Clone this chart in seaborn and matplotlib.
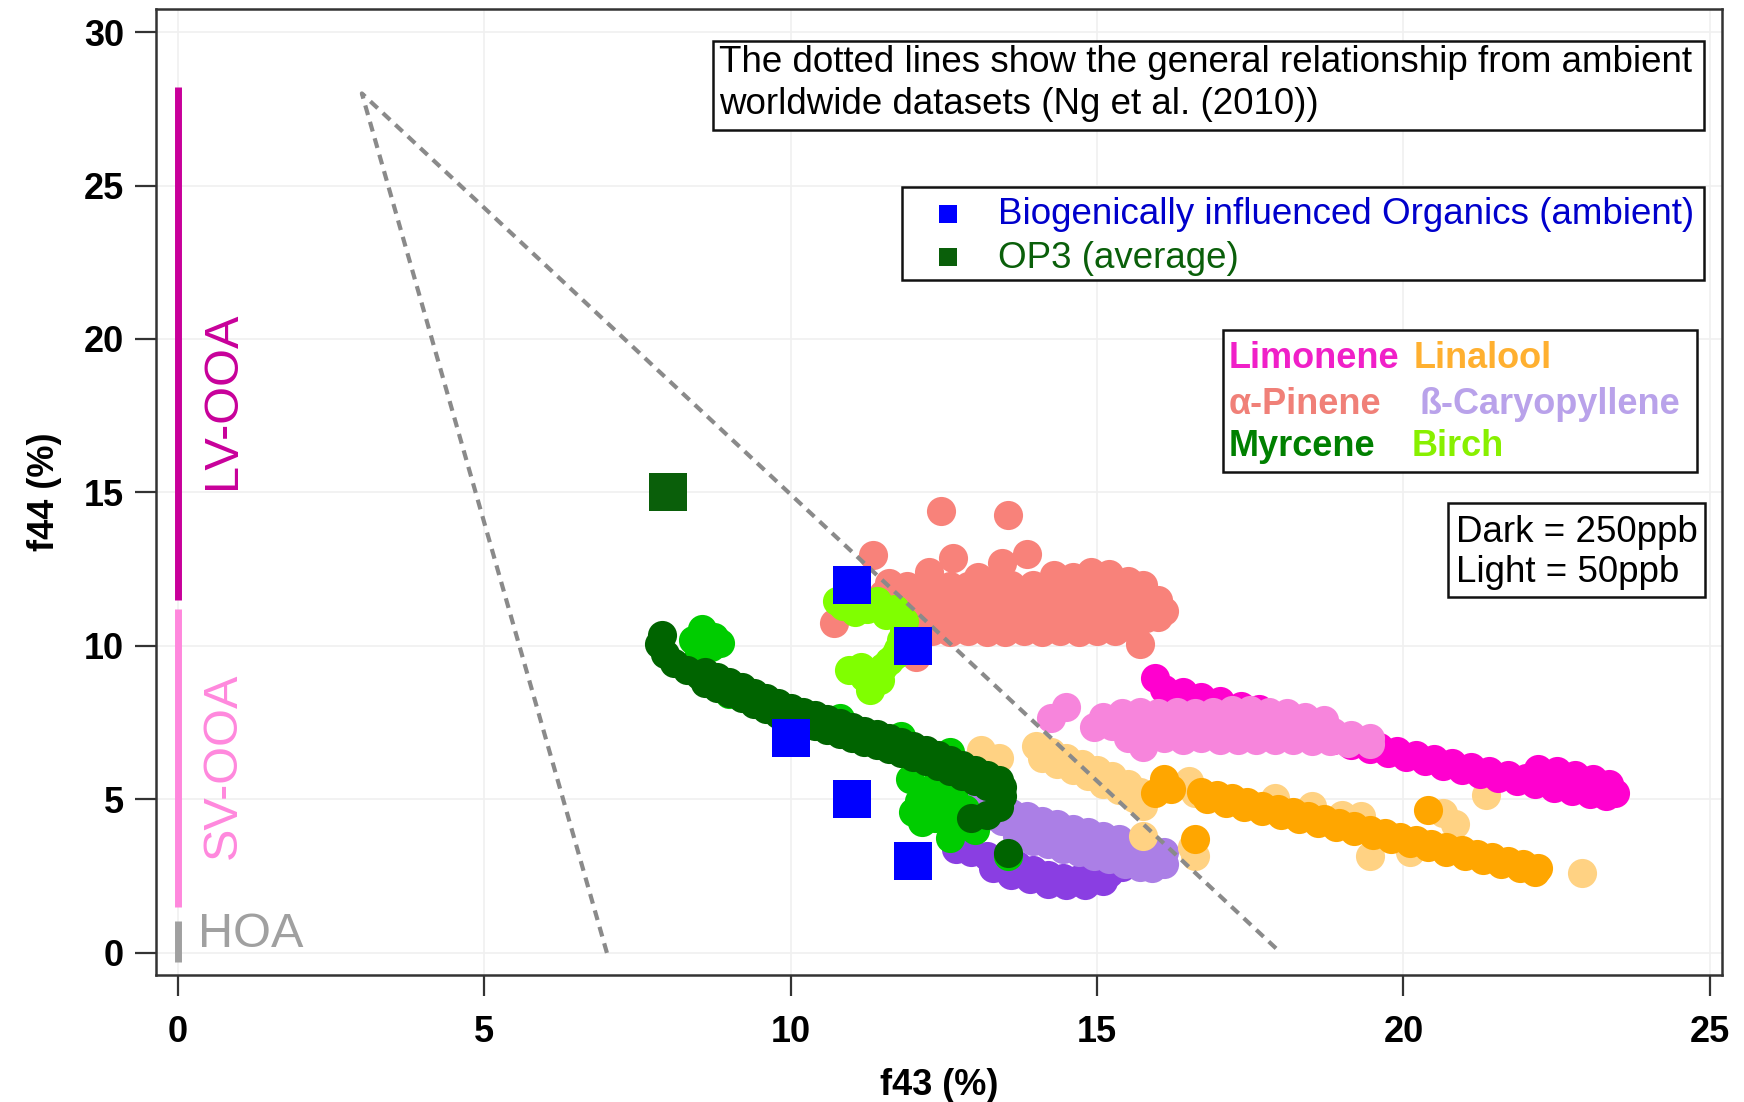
import matplotlib
matplotlib.use("Agg")
import matplotlib.pyplot as plt
from matplotlib.patches import Rectangle
import pandas as pd
import seaborn as sns

sns.set_theme(style="white")
plt.rcParams['font.family'] = ['Liberation Sans', 'DejaVu Sans']
plt.rcParams['text.color'] = 'black'
plt.rcParams['axes.labelcolor'] = 'black'
plt.rcParams['xtick.color'] = 'black'
plt.rcParams['ytick.color'] = 'black'

# ---------------------------------------------------------------- data (f43 %, f44 %)
pinene = [
    (12.45, 14.4), (13.55, 14.25), (11.35, 12.95), (12.65, 12.85), (13.45, 12.7),
    (13.85, 13.0), (12.25, 12.4), (13.05, 12.25), (10.7, 10.75), (15.7, 10.05),
    (12.05, 9.65), (11.95, 10.2),
    (11.6, 12.05), (11.9, 11.95), (12.2, 12.0), (12.6, 11.95), (12.9, 11.95),
    (13.3, 11.95), (13.6, 12.0), (13.95, 12.0), (14.3, 12.3), (14.6, 12.25),
    (14.9, 12.4), (15.2, 12.35), (15.5, 12.1), (15.75, 12.0),
    (11.5, 11.7), (11.8, 11.65), (12.1, 11.7), (12.4, 11.6), (12.7, 11.7),
    (13.0, 11.65), (13.3, 11.6), (13.6, 11.7), (13.9, 11.65), (14.2, 11.7),
    (14.5, 11.65), (14.8, 11.7), (15.1, 11.65), (15.4, 11.7), (15.7, 11.6), (16.0, 11.5),
    (11.6, 11.3), (11.9, 11.25), (12.2, 11.3), (12.5, 11.3), (12.8, 11.25),
    (13.1, 11.3), (13.4, 11.25), (13.7, 11.3), (14.0, 11.3), (14.3, 11.25),
    (14.6, 11.3), (14.9, 11.25), (15.2, 11.3), (15.5, 11.25), (15.8, 11.3), (16.1, 11.15),
    (11.9, 10.9), (12.2, 10.85), (12.5, 10.9), (12.8, 10.85), (13.1, 10.9),
    (13.4, 10.85), (13.7, 10.9), (14.0, 10.85), (14.3, 10.9), (14.6, 10.85),
    (14.9, 10.9), (15.2, 10.85), (15.5, 10.9), (15.8, 10.9), (16.0, 10.95),
    (12.3, 10.5), (12.6, 10.45), (12.9, 10.5), (13.2, 10.45), (13.5, 10.45),
    (13.8, 10.5), (14.1, 10.45), (14.4, 10.5), (14.7, 10.45), (15.0, 10.5),
    (15.3, 10.5), (15.6, 10.55),
]
caryophyllene_dark = [
    (12.7, 3.4), (12.95, 3.3), (13.2, 3.15), (13.45, 3.0), (13.7, 2.85), (13.95, 2.7),
    (14.2, 2.55), (14.45, 2.45), (14.7, 2.4), (14.95, 2.5), (15.2, 2.6), (15.4, 2.8),
    (13.3, 2.75), (13.6, 2.55), (13.9, 2.4), (14.2, 2.25), (14.5, 2.2), (14.8, 2.2),
    (15.1, 2.35),
]
caryophyllene_light = [
    (12.85, 4.95), (13.1, 4.8), (13.35, 4.7), (13.6, 4.55), (13.85, 4.45), (14.1, 4.3),
    (14.35, 4.2), (14.6, 4.05), (14.85, 3.95), (15.1, 3.8), (15.35, 3.7), (15.6, 3.55),
    (15.85, 3.45), (16.1, 3.3),
    (13.2, 4.45), (13.45, 4.3), (13.7, 4.15), (13.95, 4.0), (14.2, 3.9), (14.45, 3.75),
    (14.7, 3.65), (14.95, 3.5), (15.2, 3.4), (15.45, 3.25), (15.7, 3.15), (15.95, 3.0),
    (16.1, 2.9),
    (13.7, 3.8), (13.95, 3.65), (14.2, 3.55), (14.45, 3.4), (14.7, 3.3), (14.95, 3.15),
    (15.2, 3.05), (15.45, 2.9), (15.7, 2.8), (15.9, 2.75),
]
linalool_light = [
    (13.1, 6.6), (13.4, 6.35), (13.3, 6.05),
    (14.0, 6.75), (14.25, 6.55), (14.5, 6.35), (14.75, 6.15), (15.0, 5.95),
    (15.25, 5.75), (15.5, 5.5), (15.7, 5.25),
    (14.1, 6.35), (14.35, 6.15), (14.6, 5.95), (14.85, 5.75), (15.1, 5.5),
    (15.35, 5.3), (15.6, 5.05), (15.75, 4.8),
    (16.6, 5.2), (16.5, 5.6), (17.9, 5.05), (18.5, 4.8), (19.3, 4.45),
    (15.75, 3.8), (16.6, 3.15), (16.55, 3.45), (19.45, 3.15), (20.1, 3.3),
    (21.35, 5.15), (22.92, 2.6), (20.65, 4.55), (20.85, 4.2), (19.0, 4.5),
]
linalool_dark = [
    (16.1, 5.65), (15.95, 5.2), (16.2, 5.35), (16.6, 3.7), (20.4, 4.65),
    (16.7, 5.25), (16.95, 5.14), (17.2, 5.03), (17.45, 4.91), (17.7, 4.8),
    (17.95, 4.69), (18.2, 4.58), (18.45, 4.46), (18.7, 4.35), (18.95, 4.24),
    (19.2, 4.13), (19.45, 4.01), (19.7, 3.9), (19.95, 3.79), (20.2, 3.68),
    (20.45, 3.56), (20.7, 3.45), (20.95, 3.34), (21.2, 3.23), (21.45, 3.11),
    (21.7, 3.0), (21.95, 2.89), (22.2, 2.78),
    (16.8, 5.0), (17.1, 4.88), (17.4, 4.75), (17.7, 4.62), (18.0, 4.5),
    (18.3, 4.37), (18.6, 4.24), (18.9, 4.1), (19.2, 3.97), (19.5, 3.84),
    (19.8, 3.7), (20.1, 3.57), (20.4, 3.44), (20.7, 3.3), (21.0, 3.17),
    (21.3, 3.04), (21.6, 2.9), (21.9, 2.77), (22.15, 2.65),
]
limonene_dark = [
    (15.95, 8.95), (16.1, 8.6), (16.4, 8.5), (16.7, 8.35), (17.0, 8.2),
    (17.35, 8.05), (17.65, 7.95),
    (18.4, 7.25), (18.7, 7.12), (19.0, 6.98), (19.3, 6.84), (19.6, 6.71),
    (19.9, 6.58), (20.2, 6.45), (20.5, 6.32), (20.8, 6.18), (21.1, 6.05),
    (21.4, 5.91), (21.7, 5.8), (22.0, 5.69), (22.3, 5.59), (22.6, 5.48),
    (22.9, 5.37), (23.2, 5.27), (23.45, 5.2),
    (18.55, 7.05), (18.85, 6.92), (19.15, 6.78), (19.45, 6.64), (19.75, 6.5),
    (20.05, 6.37), (20.35, 6.24), (20.65, 6.1), (20.95, 5.97), (21.25, 5.84),
    (21.55, 5.7), (21.85, 5.6), (22.15, 5.49), (22.45, 5.38), (22.75, 5.27),
    (23.05, 5.17), (23.3, 5.1),
    (22.2, 6.0), (22.5, 5.92), (22.8, 5.8), (23.1, 5.65), (23.35, 5.5),
]
limonene_light = [
    (14.5, 8.0), (14.25, 7.65), (15.75, 6.7),
    (15.1, 7.7), (15.4, 7.8), (15.7, 7.85), (16.0, 7.8), (16.3, 7.85), (16.6, 7.8),
    (16.9, 7.85), (17.2, 7.9), (17.5, 7.9), (17.8, 7.85), (18.1, 7.8),
    (18.4, 7.7), (18.7, 7.6),
    (14.95, 7.35), (15.25, 7.4), (15.55, 7.35), (15.85, 7.4), (16.15, 7.35),
    (16.45, 7.4), (16.75, 7.35), (17.05, 7.4), (17.35, 7.35), (17.65, 7.4),
    (17.95, 7.35), (18.25, 7.3), (18.55, 7.25), (18.85, 7.2), (19.15, 7.1),
    (19.45, 7.0),
    (15.5, 7.0), (15.8, 6.95), (16.1, 7.0), (16.4, 6.95), (16.7, 7.0),
    (17.0, 6.95), (17.3, 6.95), (17.6, 6.95), (17.9, 6.95), (18.2, 6.95),
    (18.5, 6.9), (18.8, 6.9), (19.1, 6.85), (19.45, 6.8),
]
birch = [
    (10.75, 11.45), (10.85, 11.3), (11.1, 11.5), (11.4, 11.45), (11.7, 11.2),
    (11.25, 11.2), (11.55, 11.0), (11.85, 10.8), (11.05, 11.1),
    (11.85, 10.5), (11.9, 10.1), (11.8, 10.2), (11.75, 9.9), (11.7, 9.7),
    (11.6, 9.5), (11.5, 9.3), (11.45, 8.9), (11.35, 9.1), (11.3, 8.55),
    (11.15, 9.3), (10.95, 9.2), (11.2, 9.0),
]
myrcene_light = [
    (8.55, 10.55), (8.75, 10.3), (8.7, 9.95), (8.5, 9.75), (8.85, 10.1), (8.4, 10.2),
    (9.0, 8.45), (10.8, 7.65), (11.8, 7.05), (12.6, 6.55),
    (11.95, 5.65), (12.3, 5.35), (12.1, 4.95), (12.5, 4.75), (12.15, 4.25),
    (12.75, 4.3), (12.6, 3.75), (13.0, 4.0), (12.4, 5.6), (13.55, 3.15),
    (12.2, 5.1), (12.45, 5.0), (12.0, 4.6), (12.35, 4.4), (12.65, 5.2), (12.85, 4.7),
]
myrcene_dark = [
    (7.9, 10.35), (7.85, 10.05), (7.95, 9.75), (8.1, 9.45), (8.3, 9.2),
    (8.5, 9.05), (8.7, 8.88), (8.9, 8.72), (9.1, 8.55), (9.3, 8.38), (9.5, 8.22),
    (9.7, 8.05), (9.9, 7.88), (10.1, 7.74), (10.3, 7.62), (10.5, 7.49),
    (10.7, 7.37), (10.9, 7.24), (11.1, 7.12), (11.3, 7.0), (11.5, 6.87),
    (11.7, 6.75), (11.9, 6.62), (12.1, 6.5), (12.3, 6.34), (12.5, 6.18),
    (12.7, 6.01), (12.9, 5.85), (13.1, 5.69), (13.3, 5.53), (13.45, 5.4),
    (8.6, 9.15), (8.8, 8.98), (9.0, 8.82), (9.2, 8.65), (9.4, 8.48), (9.6, 8.32),
    (9.8, 8.15), (10.0, 7.98), (10.2, 7.86), (10.4, 7.74), (10.6, 7.61),
    (10.8, 7.49), (11.0, 7.36), (11.2, 7.24), (11.4, 7.12), (11.6, 6.99),
    (11.8, 6.87), (12.0, 6.74), (12.2, 6.6), (12.4, 6.44), (12.6, 6.28),
    (12.8, 6.11), (13.0, 5.95), (13.2, 5.79), (13.4, 5.63),
    (8.6, 8.79), (8.8, 8.62), (9.0, 8.46), (9.2, 8.29), (9.4, 8.12), (9.6, 7.96),
    (9.8, 7.79), (10.0, 7.62), (10.2, 7.5), (10.4, 7.38), (10.6, 7.25),
    (10.8, 7.13), (11.0, 7.0), (11.2, 6.88), (11.4, 6.76), (11.6, 6.63),
    (11.8, 6.51), (12.0, 6.38), (12.2, 6.24), (12.4, 6.08), (12.6, 5.92),
    (12.8, 5.75), (13.0, 5.59), (13.2, 5.43),
    (13.45, 5.1), (13.4, 4.75), (13.2, 4.5), (12.95, 4.4), (13.55, 3.25),
]
ambient_f43 = [11, 12, 10, 11, 12]
ambient_f44 = [12, 10, 7, 5, 3]
op3_f43 = [8]
op3_f44 = [15]

# Ng et al. (2010) triangle edges
ng_f43 = [7, 3, 18]
ng_f44 = [0, 28, 0]

# factor ranges along f43 = 0
factor_names = ['LV-OOA', 'SV-OOA', 'HOA']
factor_lo = [11.5, 1.5, -0.3]
factor_hi = [28.2, 11.2, 1.05]
factor_colors = ['#c8009a', '#ff88dd', '#a0a0a0']

# ---------------------------------------------------------------- figure
W, H = 1744, 1102
fig = plt.figure(figsize=(W / 100, H / 100), dpi=100)
ax = fig.add_axes([156 / W, 1 - 975 / H, (1722 - 156) / W, (975 - 9) / H])


def frame(points):
    return pd.DataFrame(points, columns=['f43', 'f44'])


layers = [
    (pinene, '#f8827a'),
    (caryophyllene_dark, '#8a3ee2'),
    (caryophyllene_light, '#ab7fe6'),
    (linalool_light, '#ffd283'),
    (linalool_dark, '#ffa600'),
    (limonene_dark, '#ff00cf'),
    (limonene_light, '#f785dc'),
    (birch, '#80ff00'),
    (myrcene_light, '#00cc00'),
    (myrcene_dark, '#006400'),
]
for pts, col in layers:
    sns.scatterplot(data=frame(pts), x='f43', y='f44', color=col, s=440,
                    linewidth=0, ax=ax, zorder=3, legend=False)

ax.plot(ng_f43, ng_f44, color='#8a8a8a', lw=3.0, ls=(0, (2.4, 1.7)), zorder=4)

sns.scatterplot(x=ambient_f43, y=ambient_f44, marker='s', s=760, color='#0000ff',
                linewidth=0, ax=ax, zorder=5, legend=False)
sns.scatterplot(x=op3_f43, y=op3_f44, marker='s', s=760, color='#0a5f0a',
                linewidth=0, ax=ax, zorder=5, legend=False)

ax.vlines([0, 0, 0], factor_lo, factor_hi, colors=factor_colors, lw=5, zorder=3)
ax.text(0.72, 18.0, factor_names[0], rotation=90, color='#c8009a', fontsize=35,
        ha='center', va='center')
ax.text(0.74, 6.1, factor_names[1], rotation=90, color='#ff88dd', fontsize=35,
        ha='center', va='center')
ax.text(0.33, 0.6, factor_names[2], color='#a0a0a0', fontsize=35,
        ha='left', va='center')

ax.set_xlim(-0.36, 25.2)
ax.set_ylim(-0.72, 30.75)
ax.set_xticks([0, 5, 10, 15, 20, 25])
ax.set_yticks([0, 5, 10, 15, 20, 25, 30])
ax.grid(True, color='#f0f0f0', lw=1.2)
ax.set_axisbelow(True)
for sp in ax.spines.values():
    sp.set_color('#333333')
    sp.set_linewidth(1.8)
ax.tick_params(axis='both', direction='out', length=15, width=1.6, color='#333333',
               left=True, bottom=True, labelsize=26, labelcolor='black')
ax.tick_params(axis='x', pad=14)
ax.tick_params(axis='y', pad=8)
for lab in ax.get_xticklabels() + ax.get_yticklabels():
    lab.set_fontweight('bold')
ax.set_xlabel('f43 (%)', fontsize=26, fontweight='bold', labelpad=13, color='black')
ax.set_ylabel('f44 (%)', fontsize=26, fontweight='bold', labelpad=16, color='black')


# ---------------------------------------------------------------- annotation boxes
def fx(px):
    return px / W


def fy(py):
    return 1 - py / H


def box(x0, y0, x1, y1):
    ax.add_patch(Rectangle((fx(x0), fy(y1)), (x1 - x0) / W, (y1 - y0) / H,
                           transform=fig.transFigure, facecolor='white',
                           edgecolor='#111111', lw=1.8, zorder=6, clip_on=False))


def note(px, py, s, color='black', size=26.5, weight='normal'):
    ax.text(fx(px), fy(py), s, transform=fig.transFigure, color=color,
            fontsize=size, fontweight=weight, ha='left', va='center', zorder=7)


box(713, 41, 1704, 130)
note(719, 63, 'The dotted lines show the general relationship from ambient')
note(719, 105, 'worldwide datasets (Ng et al. (2010))')

box(902, 187, 1704, 280)
for yc, col in [(214, '#0000ff'), (257, '#0a5f0a')]:
    ax.add_patch(Rectangle((fx(939), fy(yc + 9)), 18 / W, 18 / H,
                           transform=fig.transFigure, facecolor=col, lw=0,
                           zorder=7, clip_on=False))
note(998, 215, 'Biogenically influenced Organics (ambient)', color='#0000cc')
note(998, 258, 'OP3 (average)', color='#0a5f0a')

box(1223, 330, 1697, 472)
note(1229, 359, 'Limonene', color='#f020c8', size=26, weight='bold')
note(1414, 359, 'Linalool', color='#ffb030', size=26, weight='bold')
note(1229, 405, 'α-Pinene', color='#f08078', size=26, weight='bold')
note(1420, 405, 'ß-Caryopyllene', color='#b9a2ea', size=26, weight='bold')
note(1229, 447, 'Myrcene', color='#008000', size=26, weight='bold')
note(1412, 447, 'Birch', color='#88f000', size=26, weight='bold')

box(1448, 503, 1705, 597)
note(1456, 532, 'Dark = 250ppb')
note(1456, 573, 'Light = 50ppb')

fig.savefig('out.png', dpi=100, facecolor='white')
